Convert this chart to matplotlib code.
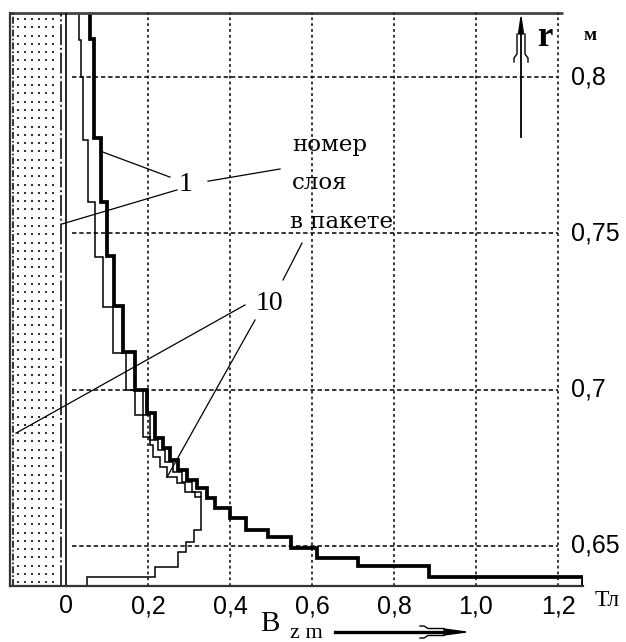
import numpy as np
import matplotlib
matplotlib.use('Agg')
import matplotlib.pyplot as plt
from matplotlib.lines import Line2D
from matplotlib.patches import Polygon

plt.rcParams['lines.scale_dashes'] = False

# ---------------- data ----------------
# layer 1 (thick): r band edges (m) and B_zm value in each band (T)
layer1_r_edges = [0.8205, 0.8122, 0.7805, 0.7600, 0.7427, 0.7267, 0.7120, 0.6999,
                  0.6925, 0.6845, 0.6813, 0.6775, 0.6743, 0.6711, 0.6685, 0.6653,
                  0.6621, 0.6589, 0.6551, 0.6528, 0.6493, 0.6461, 0.6436, 0.6401, 0.6372]
layer1_B = [0.0585, 0.068, 0.085, 0.100, 0.117, 0.139, 0.168, 0.198, 0.217, 0.237,
            0.254, 0.273, 0.295, 0.320, 0.344, 0.363, 0.400, 0.439, 0.493, 0.549,
            0.612, 0.712, 0.885, 1.261]

# layer 10 (thin)
layer10_r_edges = [0.8205, 0.8118, 0.8000, 0.7798, 0.7600, 0.7424, 0.7264, 0.7117,
                   0.6999, 0.6919, 0.6848, 0.6823, 0.6784, 0.6752, 0.6720, 0.6701,
                   0.6672, 0.6656, 0.6551, 0.6512, 0.6480, 0.6432, 0.6401, 0.6372]
layer10_B = [0.0317, 0.0366, 0.0415, 0.0537, 0.0707, 0.0902, 0.1146, 0.1463, 0.1683,
             0.1878, 0.2049, 0.2122, 0.2293, 0.2463, 0.2707, 0.2902, 0.3146, 0.3293,
             0.3122, 0.2927, 0.2732, 0.2171, 0.0512]

# intermediate thin trace next to the thick one
mid_r_edges = [0.7120, 0.6999, 0.6919, 0.6839, 0.6807, 0.6768, 0.6736, 0.6704, 0.6672, 0.6656]
mid_B = [0.168, 0.188, 0.205, 0.224, 0.241, 0.261, 0.283, 0.307, 0.329]

x_ticks = [0, 0.2, 0.4, 0.6, 0.8, 1.0, 1.2]
x_tick_labels = ['0', '0,2', '0,4', '0,6', '0,8', '1,0', '1,2']
r_ticks = [0.65, 0.70, 0.75, 0.80]
r_tick_labels = ['0,65', '0,7', '0,75', '0,8']

layer1_pos = -0.012     # position of layer 1 marker line
layer10_pos = -0.129    # position of layer 10 marker line

XMIN, XMAX = -0.1366, 1.261
YMIN, YMAX = 0.6372, 0.8205

W, H = 626, 642
fig = plt.figure(figsize=(W / 100, H / 100), dpi=100)
ax = fig.add_axes([10 / W, 1 - 586 / H, (583 - 10) / W, (586 - 13) / H])
ax.set_xlim(XMIN, XMAX)
ax.set_ylim(YMIN, YMAX)

for s in ['top', 'right']:
    ax.spines[s].set_visible(False)
for s in ['left', 'bottom']:
    ax.spines[s].set_linewidth(1.6)
    ax.spines[s].set_color('#333333')
ax.plot([XMIN, 1.212], [YMAX, YMAX], color='#444444', lw=2.0, clip_on=False,
        solid_capstyle='butt')

# grid
ax.vlines(x_ticks[1:], YMIN, YMAX, colors='k', lw=1.1, linestyles=(0, (2, 2.2)))
ax.hlines(r_ticks, 0.015, 1.2, colors='k', lw=1.1, linestyles=(0, (3.2, 2.0)))

# stippled region left of zero
xs = np.arange(-0.117, -0.024, 0.0171)
ys = np.arange(YMIN + 0.0012, YMAX, 0.00265)
gx, gy = np.meshgrid(xs, ys)
ax.scatter(gx.ravel(), gy.ravel(), s=1.6, marker='s', color='#333333', linewidths=0)

ax.axvline(0, color='k', lw=1.2)
ax.axvline(layer1_pos, color='#222222', lw=1.3, linestyle=(0, (15, 2, 1.5, 2)))
ax.axvline(layer10_pos, color='#222222', lw=1.3, linestyle=(0, (5, 1.5, 1.2, 1.5)))

# curves
def stairs(edges, vals, lw):
    e = np.asarray(edges)[::-1]
    v = np.asarray(vals)[::-1]
    ax.stairs(v, e, orientation='horizontal', baseline=None, color='k', lw=lw)

stairs(layer10_r_edges, layer10_B, 1.1)
stairs(mid_r_edges, mid_B, 1.1)
stairs(layer1_r_edges, layer1_B, 2.7)

# annotation leader lines (data coordinates)
leaders = [
    ((0.0902, 0.7760), (0.2537, 0.7680)),
    ((0.2707, 0.7639), (-0.0098, 0.7530)),
    ((0.3463, 0.7667), (0.5220, 0.7706)),
    ((0.5756, 0.7469), (0.5293, 0.7351)),
    ((0.4366, 0.7271), (-0.1220, 0.6861)),
    ((0.4610, 0.7223), (0.2463, 0.6720)),
]
for (x0, y0), (x1, y1) in leaders:
    ax.plot([x0, x1], [y0, y1], color='k', lw=0.9)

serif = 'Liberation Serif'
ax.text(0.2927, 0.7655, '1', fontsize=20, family=serif, ha='center', va='center')
ax.text(0.4951, 0.7277, '10', fontsize=20, family=serif, ha='center', va='center')
ax.text(0.5512, 0.7782, 'номер', fontsize=16.5, family='DejaVu Serif', ha='left', va='center')
ax.text(0.5512, 0.7661, 'слоя', fontsize=16.5, family='DejaVu Serif', ha='left', va='center')
ax.text(0.5463, 0.7536, 'в пакете', fontsize=16.5, family='DejaVu Serif', ha='left', va='center')

# ticks
ax.set_xticks(x_ticks)
ax.set_xticklabels(x_tick_labels, family='Liberation Sans', fontsize=18)
ax.tick_params(axis='x', length=0, pad=6)
ax.set_yticks([])
for v, lab in zip(r_ticks, r_tick_labels):
    ax.text(1.232, v, lab, family='Liberation Sans', fontsize=18, ha='left', va='center')

# figure-pixel helpers for decorations
def P(px, py):
    return (px / W, 1 - py / H)

def fline(pts, lw=1.2):
    xs_ = [P(*p)[0] for p in pts]
    ys_ = [P(*p)[1] for p in pts]
    fig.add_artist(Line2D(xs_, ys_, color='k', lw=lw, transform=fig.transFigure))

# unit labels
fig.text(*P(590, 36), 'м', family=serif, fontsize=14, weight='bold', ha='center', va='center')
fig.text(*P(545, 37), 'r', family=serif, fontsize=25, weight='bold', ha='center', va='center')
fig.text(*P(607, 601), 'Тл', family=serif, fontsize=17, ha='center', va='center')
fig.text(*P(270, 624), 'B', family=serif, fontsize=21, ha='center', va='center')
fig.text(*P(306, 634), 'z m', family=serif, fontsize=16, ha='center', va='center')

# r arrow (vertical)
fline([(521, 137), (521, 30)], lw=1.3)
fig.add_artist(Polygon([P(518.5, 34), P(521, 17), P(523.5, 34)], closed=True,
                       color='k', transform=fig.transFigure))
fline([(517, 34), (517, 54), (514, 58), (514, 62)], lw=1.0)
fline([(525, 34), (525, 54), (528, 58), (528, 62)], lw=1.0)

# B arrow (horizontal)
fline([(335, 632), (448, 632)], lw=2.4)
fig.add_artist(Polygon([P(444, 629), P(466, 632), P(444, 635)], closed=True,
                       color='k', transform=fig.transFigure))
fline([(444, 628.5), (428, 628.5), (424, 626), (420, 626)], lw=1.0)
fline([(444, 635.5), (428, 635.5), (424, 638), (420, 638)], lw=1.0)

fig.savefig('out.png', dpi=100)
